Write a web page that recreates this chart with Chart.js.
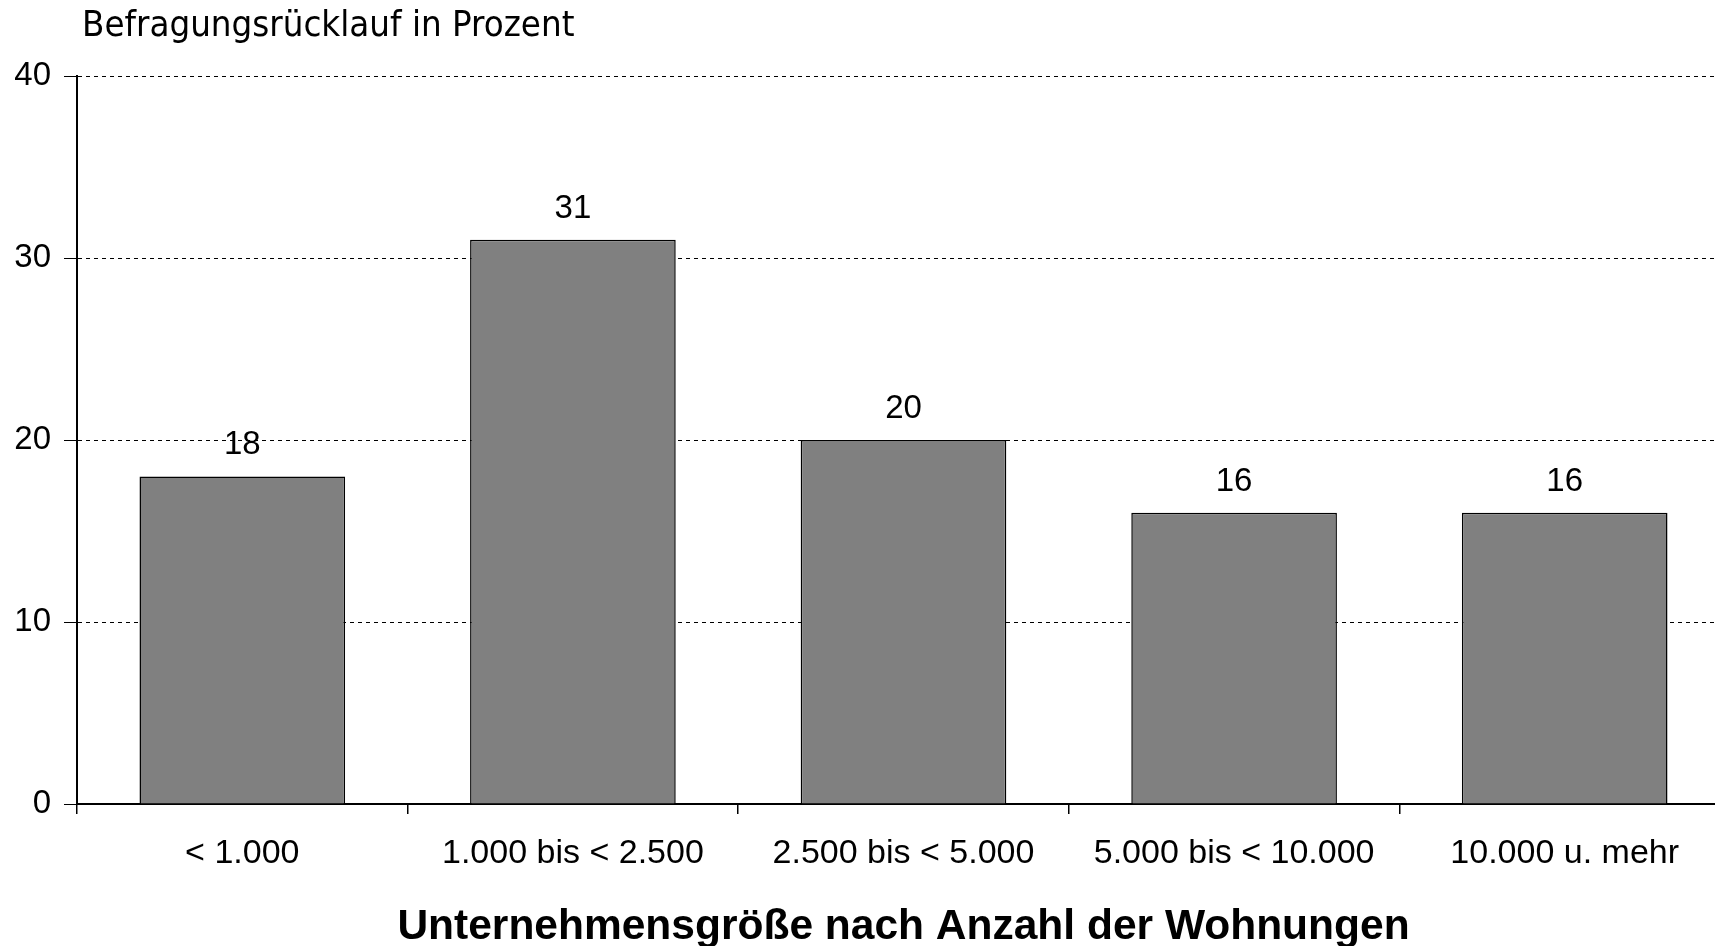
<!DOCTYPE html>
<html>
<head>
<meta charset="utf-8">
<script src="https://cdn.jsdelivr.net/npm/chart.js@4.4.0/dist/chart.umd.min.js"></script>
<style>
  html, body { margin: 0; padding: 0; background: #fff; overflow: hidden; }
  #wrap { width: 1735px; height: 946px; }
</style>
</head>
<body>
<div id="wrap"><canvas id="chart" width="1735" height="946"></canvas></div>
<script>
const categories = ['< 1.000', '1.000 bis < 2.500', '2.500 bis < 5.000', '5.000 bis < 10.000', '10.000 u. mehr'];
const ruecklauf = [18, 31, 20, 16, 16];
const yMin = 0;
const yMax = 40;
const yStep = 10;
const chartTitle = 'Befragungsrücklauf in Prozent';
const xTitle = 'Unternehmensgröße nach Anzahl der Wohnungen';

// Werte über den Balken und Überschrift oben links
const labelPlugin = {
  id: 'labels',
  afterDatasetsDraw(chart) {
    const ctx = chart.ctx;
    ctx.save();
    ctx.font = '33px "Liberation Sans"';
    ctx.fillStyle = '#000';
    ctx.textAlign = 'center';
    ctx.textBaseline = 'middle';
    chart.getDatasetMeta(0).data.forEach((bar, i) => {
      ctx.fillText(String(ruecklauf[i]), bar.x, bar.y - 31);
    });
    ctx.font = '36.3px "DejaVu Sans Condensed"';
    ctx.textAlign = 'left';
    ctx.fillText(chartTitle, chart.chartArea.left + 5, 27);
    ctx.restore();
  }
};

new Chart(document.getElementById('chart').getContext('2d'), {
  type: 'bar',
  data: {
    labels: categories,
    datasets: [{
      data: ruecklauf,
      backgroundColor: '#808080',
      borderColor: '#000',
      borderWidth: 1.5,
      categoryPercentage: 1,
      barPercentage: 0.622
    }]
  },
  options: {
    responsive: false,
    animation: false,
    layout: { padding: { top: 76, right: 5, bottom: 0, left: 0 } },
    plugins: {
      legend: { display: false },
      tooltip: { enabled: false }
    },
    scales: {
      x: {
        afterFit: (scale) => { scale.height = 142; },
        grid: { drawOnChartArea: false, offset: true, tickLength: 10, color: '#000', lineWidth: 1.5 },
        border: { color: '#000', width: 2 },
        ticks: {
          color: '#000',
          font: { family: 'Liberation Sans', size: 34 },
          padding: 19,
          maxRotation: 0,
          autoSkip: false
        },
        title: {
          display: true,
          text: xTitle,
          color: '#000',
          font: { family: 'Liberation Sans', size: 42.5, weight: 'bold', lineHeight: 0.86 },
          padding: { top: 0, bottom: 0 }
        }
      },
      y: {
        min: yMin,
        max: yMax,
        afterFit: (scale) => { scale.width = 77; },
        grid: { color: '#000', lineWidth: 1, tickLength: 13 },
        border: { color: '#000', width: 2, dash: [4, 4] },
        ticks: {
          stepSize: yStep,
          color: '#000',
          font: { family: 'Liberation Sans', size: 33 },
          padding: 13
        }
      }
    }
  },
  plugins: [labelPlugin]
});
</script>
</body>
</html>
